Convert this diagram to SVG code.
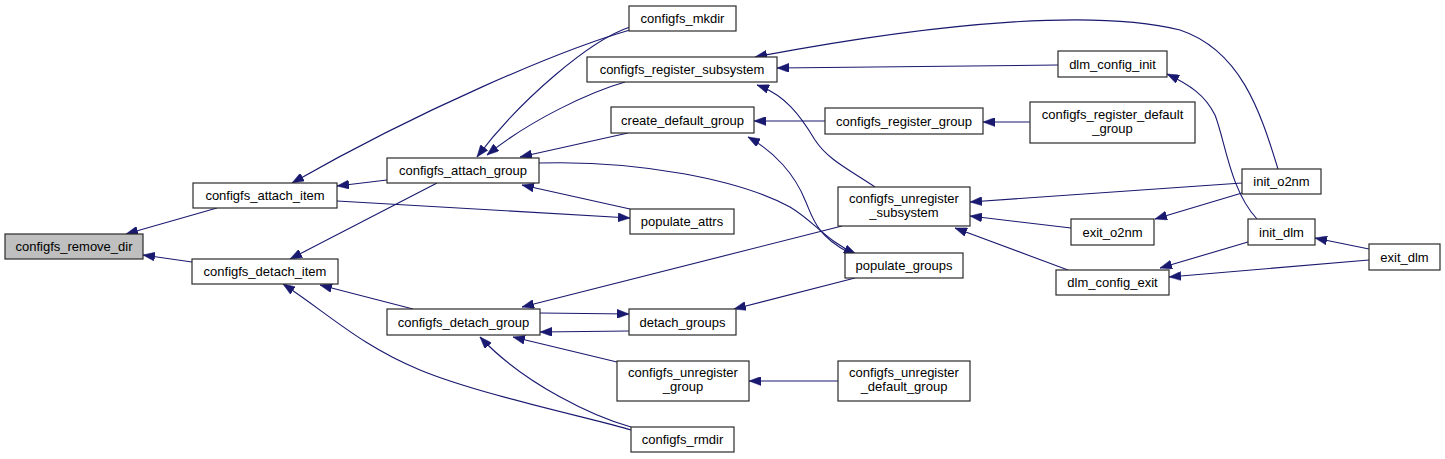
<svg xmlns="http://www.w3.org/2000/svg" width="1445" height="459" viewBox="0 0 1445 459">
<style>
.n rect{fill:#fff;stroke:#2a2a2a;stroke-width:1.2}
.n text{font-family:"Liberation Sans",Arial,sans-serif;font-size:13px;fill:#000;text-anchor:middle}
.e path{fill:none;stroke:#191970;stroke-width:1.1;marker-end:url(#ah)}
</style>
<defs>
<marker id="ah" viewBox="0 0 12 9" markerWidth="12" markerHeight="9" refX="12" refY="4.5" orient="auto" markerUnits="userSpaceOnUse">
<path d="M0,0 L12,4.5 L0,9 Z" fill="#191970" stroke="#191970" stroke-width="0.5"/>
</marker>
</defs>
<rect width="1445" height="459" fill="#fff"/>
<g id="connectors" class="e">
<path d="M217,208 L126,234"/>
<path d="M192,262 L143,255"/>
<path d="M387,180 L337,186"/>
<path d="M630,30 C560,50 420,110 292,183"/>
<path d="M337,201 L630,218"/>
<path d="M437,183 L290,259"/>
<path d="M413,309 L320,285"/>
<path d="M631,430 C600,420 480,395 420,370 S330,315 283,284"/>
<path d="M630,27 C590,40 520,100 477,157"/>
<path d="M625,82 C590,92 530,120 487,155"/>
<path d="M628,133 L520,157"/>
<path d="M630,209 L522,185"/>
<path d="M539,163 C640,160 740,180 790,207 C815,222 825,240 856,254"/>
<path d="M848,252 C815,235 812,215 805,200 C795,175 775,152 748,137"/>
<path d="M825,121 L754,121"/>
<path d="M1030,122 L983,122"/>
<path d="M855,278 L734,309"/>
<path d="M875,187 C850,170 828,160 815,140 C800,115 785,95 757,85"/>
<path d="M842,226 L522,307"/>
<path d="M540,313 L629,314"/>
<path d="M629,331 L540,332"/>
<path d="M617,362 L513,337"/>
<path d="M631,427 C595,417 525,385 480,337"/>
<path d="M838,381 L749,381"/>
<path d="M1058,65 L777,68"/>
<path d="M1278,169 C1260,110 1240,50 1180,30 C1100,10 950,20 755,57"/>
<path d="M1257,219 C1230,190 1225,140 1215,115 C1205,95 1190,85 1167,74"/>
<path d="M1242,183 L970,202"/>
<path d="M1071,228 L970,216"/>
<path d="M1242,193 L1155,219"/>
<path d="M1068,270 L955,228"/>
<path d="M1248,242 L1160,268"/>
<path d="M1369,249 L1315,238"/>
<path d="M1369,260 L1169,277"/>
</g>
<g id="configfs_remove_dir" class="n"><rect x="5" y="234" width="138" height="25" style="fill:#bfbfbf"/><text x="74" y="251">configfs_remove_dir</text></g>
<g id="configfs_attach_item" class="n"><rect x="193" y="183" width="144" height="25"/><text x="265" y="200">configfs_attach_item</text></g>
<g id="configfs_detach_item" class="n"><rect x="192" y="259" width="146" height="25"/><text x="265" y="276">configfs_detach_item</text></g>
<g id="configfs_mkdir" class="n"><rect x="629" y="6" width="107" height="25"/><text x="682.5" y="23">configfs_mkdir</text></g>
<g id="configfs_register_subsystem" class="n"><rect x="587" y="57" width="190" height="25"/><text x="682" y="74">configfs_register_subsystem</text></g>
<g id="create_default_group" class="n"><rect x="611" y="107" width="143" height="26"/><text x="682.5" y="124.5">create_default_group</text></g>
<g id="configfs_attach_group" class="n"><rect x="387" y="158" width="152" height="25"/><text x="463" y="175">configfs_attach_group</text></g>
<g id="populate_attrs" class="n"><rect x="630" y="209" width="104" height="25"/><text x="682" y="226">populate_attrs</text></g>
<g id="configfs_detach_group" class="n"><rect x="387" y="309" width="153" height="26"/><text x="463.5" y="326.5">configfs_detach_group</text></g>
<g id="detach_groups" class="n"><rect x="629" y="309" width="107" height="26"/><text x="682.5" y="326.5">detach_groups</text></g>
<g id="configfs_unregister_group" class="n"><rect x="617" y="361" width="132" height="40"/><text x="683" y="377">configfs_unregister</text><text x="683" y="391">_group</text></g>
<g id="configfs_rmdir" class="n"><rect x="631" y="427" width="103" height="25"/><text x="682.5" y="444">configfs_rmdir</text></g>
<g id="configfs_register_group" class="n"><rect x="825" y="108" width="158" height="26"/><text x="904" y="125.5">configfs_register_group</text></g>
<g id="configfs_register_default_group" class="n"><rect x="1030" y="102" width="165" height="41"/><text x="1112.5" y="119">configfs_register_default</text><text x="1112.5" y="133">_group</text></g>
<g id="configfs_unregister_subsystem" class="n"><rect x="838" y="187" width="132" height="39"/><text x="904" y="202.5">configfs_unregister</text><text x="904" y="216.5">_subsystem</text></g>
<g id="populate_groups" class="n"><rect x="845" y="253" width="118" height="25"/><text x="904" y="270">populate_groups</text></g>
<g id="configfs_unregister_default_group" class="n"><rect x="838" y="361" width="132" height="40"/><text x="904" y="377">configfs_unregister</text><text x="904" y="391">_default_group</text></g>
<g id="dlm_config_init" class="n"><rect x="1058" y="51" width="109" height="26"/><text x="1112.5" y="68.5">dlm_config_init</text></g>
<g id="exit_o2nm" class="n"><rect x="1071" y="219" width="83" height="26"/><text x="1112.5" y="236.5">exit_o2nm</text></g>
<g id="dlm_config_exit" class="n"><rect x="1056" y="270" width="113" height="25"/><text x="1112.5" y="287">dlm_config_exit</text></g>
<g id="init_o2nm" class="n"><rect x="1242" y="169" width="79" height="25"/><text x="1281.5" y="186">init_o2nm</text></g>
<g id="init_dlm" class="n"><rect x="1248" y="219" width="67" height="26"/><text x="1281.5" y="236.5">init_dlm</text></g>
<g id="exit_dlm" class="n"><rect x="1369" y="244" width="71" height="26"/><text x="1404.5" y="261.5">exit_dlm</text></g>
</svg>
